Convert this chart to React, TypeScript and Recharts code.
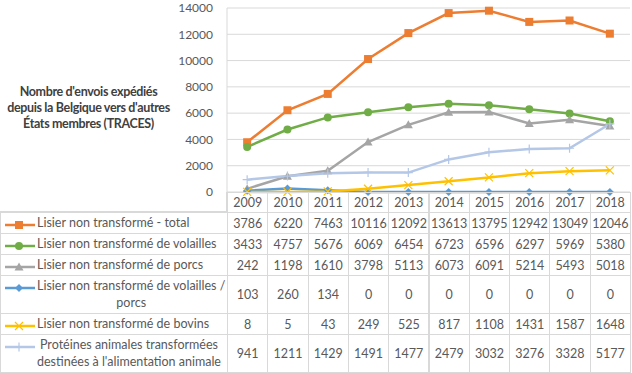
import React from 'react';
import { LineChart, Line, XAxis, YAxis, CartesianGrid } from 'recharts';

const years = ['2009', '2010', '2011', '2012', '2013', '2014', '2015', '2016', '2017', '2018'];
const total = [3786, 6220, 7463, 10116, 12092, 13613, 13795, 12942, 13049, 12046];
const volailles = [3433, 4757, 5676, 6069, 6454, 6723, 6596, 6297, 5969, 5380];
const porcs = [242, 1198, 1610, 3798, 5113, 6073, 6091, 5214, 5493, 5018];
const volaillesPorcs = [103, 260, 134, 0, 0, 0, 0, 0, 0, 0];
const bovins = [8, 5, 43, 249, 525, 817, 1108, 1431, 1587, 1648];
const proteines = [941, 1211, 1429, 1491, 1477, 2479, 3032, 3276, 3328, 5177];
const yTicks = [0, 2000, 4000, 6000, 8000, 10000, 12000, 14000];
const titleLines = ["Nombre d'envois expédiés", "depuis la Belgique vers d'autres", 'États membres (TRACES)'];

type Shape = 'square' | 'circle' | 'triangle' | 'diamond' | 'x' | 'plus';

const series: { key: string; label: string[]; values: number[]; color: string; shape: Shape }[] = [
  { key: 'total', label: ['Lisier non transformé - total'], values: total, color: '#ED7D31', shape: 'square' },
  { key: 'volailles', label: ['Lisier non transformé de volailles'], values: volailles, color: '#70AD47', shape: 'circle' },
  { key: 'porcs', label: ['Lisier non transformé de porcs'], values: porcs, color: '#A5A5A5', shape: 'triangle' },
  { key: 'volaillesPorcs', label: ['Lisier non transformé de volailles /', 'porcs'], values: volaillesPorcs, color: '#5B9BD5', shape: 'diamond' },
  { key: 'bovins', label: ['Lisier non transformé de bovins'], values: bovins, color: '#FFC000', shape: 'x' },
  { key: 'proteines', label: ['Protéines animales transformées', "destinées à l'alimentation animale"], values: proteines, color: '#B4C7E7', shape: 'plus' },
];

const data = years.map((year, i) => {
  const row: Record<string, string | number> = { year };
  series.forEach((s) => { row[s.key] = s.values[i]; });
  return row;
});

const marker = (shape: Shape, color: string, cx: number, cy: number, key?: string | number) => {
  switch (shape) {
    case 'square':
      return <rect key={key} x={cx - 4} y={cy - 4} width={8} height={8} fill={color} />;
    case 'circle':
      return <circle key={key} cx={cx} cy={cy} r={4} fill={color} />;
    case 'triangle':
      return <path key={key} d={`M${cx},${cy - 4.5} L${cx + 4.5},${cy + 3.5} L${cx - 4.5},${cy + 3.5} Z`} fill={color} />;
    case 'diamond':
      return <path key={key} d={`M${cx},${cy - 4} L${cx + 4},${cy} L${cx},${cy + 4} L${cx - 4},${cy} Z`} fill={color} />;
    case 'x':
      return (
        <path key={key} d={`M${cx - 4},${cy - 4} L${cx + 4},${cy + 4} M${cx + 4},${cy - 4} L${cx - 4},${cy + 4}`} stroke={color} strokeWidth={1.2} fill="none" />
      );
    default:
      return (
        <path key={key} d={`M${cx - 4.5},${cy} L${cx + 4.5},${cy} M${cx},${cy - 4.5} L${cx},${cy + 4.5}`} stroke={color} strokeWidth={1.2} fill="none" />
      );
  }
};

const font = 'Lato, "Noto Sans", sans-serif';
const border = '1px solid #d9d9d9';
const rowHeights = [20, 21, 21, 21, 38, 21, 38];
const colW = 40.3;

const Swatch = ({ shape, color }: { shape: Shape; color: string }) => (
  <svg width={32} height={10} style={{ position: 'absolute', left: 3, top: 5 }}>
    <line x1={1} y1={5} x2={31} y2={5} stroke={color} strokeWidth={2.5} />
    {marker(shape, color, 15, 5)}
  </svg>
);

const App: React.FC = () => {
  const cells: React.ReactNode[] = [];
  let top = 0;
  rowHeights.forEach((h, r) => {
    if (r === 0) {
      cells.push(<div key="e" style={{ position: 'absolute', left: 0, top, width: 227, height: h, boxSizing: 'border-box', borderRight: border, borderBottom: border }} />);
      years.forEach((y, c) => {
        cells.push(
          <div key={`y${c}`} style={{ position: 'absolute', left: 227 + c * colW, top, width: colW + 1, height: h + 1, boxSizing: 'border-box', border, display: 'flex', alignItems: 'center', justifyContent: 'center' }}>{y}</div>
        );
      });
    } else {
      const s = series[r - 1];
      cells.push(
        <div key={`l${r}`} style={{ position: 'absolute', left: 0, top, width: 228, height: h + 1, boxSizing: 'border-box', border }}>
          <div style={{ position: 'absolute', left: 0, top: 2 }}>
            <Swatch shape={s.shape} color={s.color} />
          </div>
          <div style={{ position: 'absolute', left: 36, top: 1, textAlign: 'center', whiteSpace: 'nowrap', lineHeight: '17px' }}>
            {s.label.map((t, i) => <div key={i}>{t}</div>)}
          </div>
        </div>
      );
      s.values.forEach((v, c) => {
        cells.push(
          <div key={`v${r}-${c}`} style={{ position: 'absolute', left: 227 + c * colW, top, width: colW + 1, height: h + 1, boxSizing: 'border-box', border, display: 'flex', alignItems: 'center', justifyContent: 'center' }}>{v}</div>
        );
      });
    }
    top += h;
  });

  return (
    <div style={{ position: 'fixed', left: 0, top: 0, width: 632, height: 373, background: '#fff', fontFamily: font, color: '#595959', overflow: 'hidden' }}>
      <div style={{ position: 'absolute', left: 0, top: 84, width: 177, textAlign: 'center', fontWeight: 'bold', fontSize: 12.5, letterSpacing: -0.35, lineHeight: '16px', color: '#404040', whiteSpace: 'nowrap' }}>
        {titleLines.map((t, i) => <div key={i}>{t}</div>)}
      </div>
      <div style={{ position: 'absolute', left: 0, top: 0 }}>
        <LineChart width={632} height={200} data={data} margin={{ top: 8, right: 2, left: 0, bottom: 8 }}>
          <CartesianGrid vertical={false} stroke="#d9d9d9" />
          <XAxis dataKey="year" hide padding={{ left: colW / 2, right: colW / 2 }} />
          <YAxis
            width={227}
            domain={[0, 14000]}
            ticks={yTicks}
            interval={0}
            tickLine={false}
            axisLine={{ stroke: '#d9d9d9' }}
            tickMargin={8}
            tick={{ fill: '#595959', fontSize: 12, fontFamily: font }}
          />
          {series.map((s) => (
            <Line
              key={s.key}
              dataKey={s.key}
              stroke={s.color}
              strokeWidth={2.5}
              isAnimationActive={false}
              dot={(p: any) => marker(s.shape, s.color, p.cx, p.cy, `${s.key}-${p.index}`)}
              activeDot={false}
            />
          ))}
        </LineChart>
      </div>
      <div style={{ position: 'absolute', left: 0, top: 192, fontSize: 12.5 }}>{cells}</div>
    </div>
  );
};

export default App;
